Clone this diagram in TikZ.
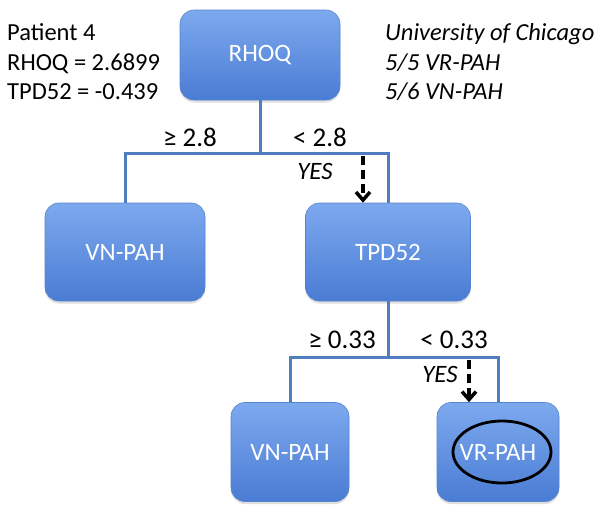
\documentclass[tikz,border=0pt]{standalone}
\usepackage{fontspec}
\setmainfont{Carlito}
\usetikzlibrary{arrows.meta,shapes.geometric,shadows}
\definecolor{boxtop}{HTML}{7DA9EE}
\definecolor{boxbot}{HTML}{4A7CD4}
\definecolor{boxedge}{HTML}{5584CF}
\definecolor{linecol}{HTML}{4F7EC0}
\tikzset{
  treebox/.style={rectangle, rounded corners=14pt, top color=boxtop, bottom color=boxbot,
    draw=boxedge, line width=0.6pt, text=white, font=\fontsize{25}{30}\selectfont,
    drop shadow={opacity=0.25, shadow xshift=0pt, shadow yshift=-2.5pt}},
  branch/.style={draw=linecol, line width=3pt},
  yesarrow/.style={draw=black, line width=3.5pt, dash pattern=on 9pt off 5pt, -{Straight Barb[length=8pt,width=14pt]}},
  lbl/.style={font=\fontsize{27}{32}\selectfont, text=black, inner sep=0pt},
  yeslbl/.style={font=\fontsize{25}{30}\selectfont\itshape, text=black, inner sep=0pt},
  infotxt/.style={font=\fontsize{24.5}{29}\selectfont, text=black, inner sep=0pt, anchor=base west},
}
\begin{document}
\begin{tikzpicture}[x=1pt,y=-1pt]
\useasboundingbox (0,0) rectangle (602,515);
\fill[white] (0,0) rectangle (602,515);
% boxes
\node[treebox, minimum width=160pt, minimum height=90pt] (rhoq) at (260,55) {RHOQ};
\node[treebox, minimum width=160pt, minimum height=98pt] (vn1) at (125,252) {VN-PAH};
\node[treebox, minimum width=165pt, minimum height=98pt] (tpd) at (388,252) {TPD52};
\node[treebox, minimum width=118pt, minimum height=99pt] (vn2) at (290,452) {VN-PAH};
\node[treebox, minimum width=122pt, minimum height=99pt] (vr) at (498,452) {VR-PAH};
\node[ellipse, draw=black, line width=2.8pt, minimum width=98pt, minimum height=62pt, inner sep=0pt] (mark) at (502,452) {};
% junctions
\coordinate (j1) at (260,153);
\coordinate (j2) at (388,357);
\coordinate (d1) at (363,156);
\coordinate (d2) at (469,360);
% connectors
\draw[branch] (rhoq.south) -- (j1);
\draw[branch] (vn1.north) |- (j1) -| (tpd.north);
\draw[branch] (tpd.south) -- (j2);
\draw[branch] (vn2.north) |- (j2) -| (vr.north);
\draw[yesarrow] (d1) -- (d1 |- tpd.north);
\draw[yesarrow] (d2) -- (d2 |- vr.north);
% labels
\node[lbl] (ge1) at (190,137) {≥ 2.8};
\node[lbl] (lt1) at (320,137) {< 2.8};
\node[yeslbl] (yes1) at (315,171) {YES};
\node[lbl] (ge2) at (342,340) {≥ 0.33};
\node[lbl] (lt2) at (454,340) {< 0.33};
\node[yeslbl] (yes2) at (440,374) {YES};
% info text
\node[infotxt] (p1) at (7,40) {Patient 4};
\node[infotxt] (p2) at (7,70) {RHOQ = 2.6899};
\node[infotxt] (p3) at (7,99) {TPD52 = -0.439};
\node[infotxt, font=\fontsize{24.5}{29}\selectfont\itshape] (u1) at (385,40) {University of Chicago};
\node[infotxt, font=\fontsize{24.5}{29}\selectfont\itshape] (u2) at (385,70) {5/5 VR-PAH};
\node[infotxt, font=\fontsize{24.5}{29}\selectfont\itshape] (u3) at (385,99) {5/6 VN-PAH};
\end{tikzpicture}
\end{document}
